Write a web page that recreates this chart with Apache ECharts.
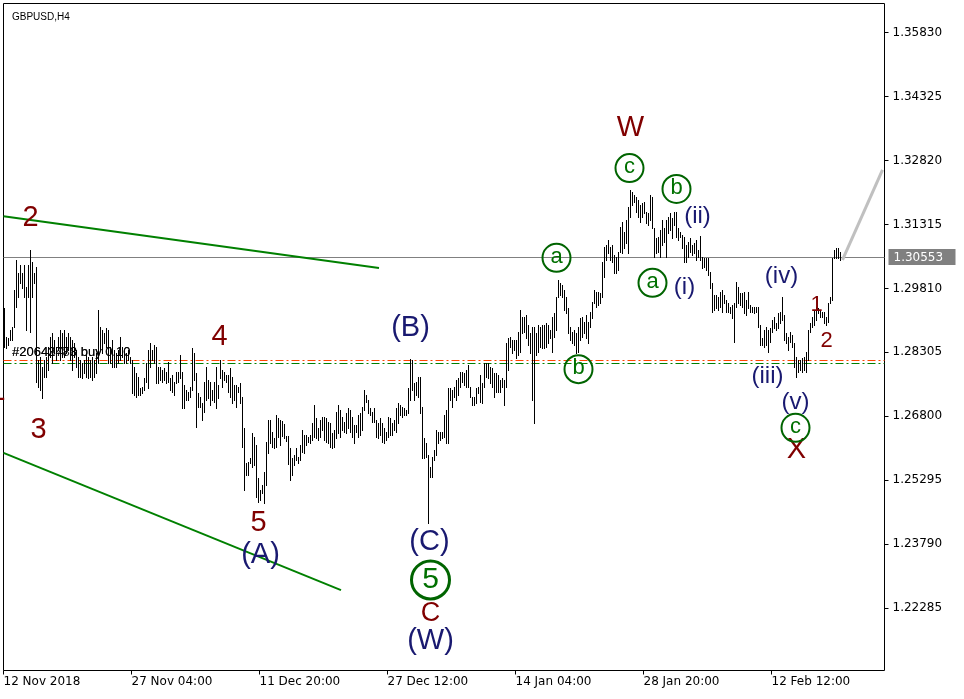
<!DOCTYPE html>
<html><head><meta charset="utf-8">
<script src="https://cdn.jsdelivr.net/npm/echarts@6/dist/echarts.min.js"></script>
<style>html,body{margin:0;padding:0;background:#fff}#c{width:964px;height:699px}</style>
</head><body><div id="c"></div>
<script>
// GBPUSD H4 bars (high / low), one entry per bar, left to right
const highs = [
1.2935,1.2867,1.2864,1.2883,1.2890,1.2977,1.3048,1.3017,1.3036,1.3017,
1.3036,1.2984,1.3036,1.3071,1.3043,1.3017,1.3031,1.2813,1.2820,1.2796,
1.2813,1.2820,1.2843,1.2867,1.2876,1.2860,1.2843,1.2867,1.2883,1.2876,
1.2883,1.2867,1.2876,1.2867,1.2860,1.2853,1.2836,1.2820,1.2813,1.2805,
1.2813,1.2829,1.2820,1.2813,1.2820,1.2813,1.2829,1.2930,1.2890,1.2883,
1.2876,1.2888,1.2883,1.2843,1.2860,1.2836,1.2829,1.2836,1.2867,1.2843,
1.2836,1.2829,1.2836,1.2820,1.2813,1.2796,1.2782,1.2773,1.2747,1.2749,
1.2770,1.2805,1.2836,1.2853,1.2836,1.2848,1.2843,1.2796,1.2796,1.2789,
1.2794,1.2784,1.2808,1.2770,1.2777,1.2761,1.2784,1.2784,1.2824,1.2784,
1.2754,1.2742,1.2737,1.2749,1.2841,1.2829,1.2782,1.2735,1.2725,1.2711,
1.2761,1.2796,1.2765,1.2761,1.2742,1.2761,1.2796,1.2754,1.2813,1.2789,
1.2784,1.2777,1.2777,1.2794,1.2773,1.2754,1.2754,1.2749,1.2758,1.2725,
1.2653,1.2570,1.2573,1.2582,1.2641,1.2631,1.2613,1.2535,1.2507,1.2518,
1.2549,1.2620,1.2671,1.2671,1.2643,1.2629,1.2683,1.2676,1.2671,1.2669,
1.2662,1.2634,1.2634,1.2605,1.2582,1.2589,1.2605,1.2584,1.2613,1.2648,
1.2636,1.2636,1.2631,1.2636,1.2664,1.2707,1.2676,1.2653,1.2671,1.2678,
1.2678,1.2676,1.2667,1.2664,1.2641,1.2648,1.2690,1.2707,1.2695,1.2678,
1.2667,1.2688,1.2700,1.2695,1.2678,1.2660,1.2660,1.2683,1.2688,1.2702,
1.2742,1.2730,1.2718,1.2700,1.2690,1.2700,1.2671,1.2664,1.2676,1.2664,
1.2653,1.2643,1.2678,1.2676,1.2664,1.2671,1.2700,1.2711,1.2707,1.2702,
1.2700,1.2695,1.2747,1.2815,1.2813,1.2758,1.2761,1.2773,1.2773,1.2702,
1.2629,1.2617,1.2589,1.2561,1.2584,1.2601,1.2648,1.2643,1.2643,1.2643,
1.2683,1.2695,1.2747,1.2747,1.2742,1.2749,1.2765,1.2770,1.2784,1.2784,
1.2782,1.2789,1.2801,1.2749,1.2725,1.2725,1.2747,1.2749,1.2777,1.2758,
1.2805,1.2805,1.2805,1.2796,1.2794,1.2782,1.2782,1.2777,1.2765,1.2770,
1.2765,1.2853,1.2864,1.2867,1.2860,1.2860,1.2860,1.2878,1.2930,1.2914,
1.2914,1.2918,1.2895,1.2876,1.2890,1.2890,1.2876,1.2895,1.2890,1.2895,
1.2895,1.2900,1.2895,1.2883,1.2914,1.2923,1.2961,1.3001,1.2994,1.2989,
1.2977,1.2961,1.2935,1.2890,1.2878,1.2883,1.2876,1.2890,1.2911,1.2914,
1.2902,1.2918,1.2902,1.2925,1.2949,1.2977,1.2973,1.2973,1.2970,1.3043,
1.3078,1.3083,1.3095,1.3078,1.3083,1.3060,1.3055,1.3067,1.3125,1.3137,
1.3114,1.3142,1.3172,1.3212,1.3208,1.3201,1.3196,1.3189,1.3177,1.3182,
1.3184,1.3161,1.3158,1.3201,1.3196,1.3123,1.3100,1.3102,1.3118,1.3142,
1.3123,1.3142,1.3149,1.3158,1.3147,1.3161,1.3161,1.3123,1.3114,1.3107,
1.3102,1.3083,1.3090,1.3100,1.3083,1.3088,1.3095,1.3071,1.3104,1.3055,
1.3053,1.3053,1.3053,1.3020,1.2994,1.2965,1.2965,1.2961,1.2973,1.2977,
1.2965,1.2954,1.2947,1.2937,1.2942,1.2947,1.2996,1.2984,1.2970,1.2970,
1.2973,1.2954,1.2973,1.2942,1.2937,1.2937,1.2937,1.2937,1.2895,1.2864,
1.2883,1.2890,1.2883,1.2888,1.2907,1.2914,1.2900,1.2923,1.2925,1.2961,
1.2918,1.2876,1.2867,1.2878,1.2871,1.2853,1.2820,1.2813,1.2813,1.2817,
1.2820,1.2831,1.2883,1.2900,1.2914,1.2930,1.2937,1.2935,1.2930,1.2925,
1.2925,1.2914,1.2947,1.2961,1.3053,1.3071,1.3076,1.3076,1.3067
];
const lows = [
1.2843,1.2841,1.2848,1.2860,1.2860,1.2890,1.2937,1.2961,1.2994,1.2982,
1.2961,1.2883,1.2961,1.2878,1.2961,1.2994,1.2761,1.2749,1.2742,1.2723,
1.2773,1.2773,1.2789,1.2820,1.2805,1.2829,1.2813,1.2836,1.2813,1.2820,
1.2820,1.2829,1.2836,1.2813,1.2789,1.2820,1.2796,1.2773,1.2773,1.2770,
1.2782,1.2773,1.2770,1.2773,1.2765,1.2773,1.2782,1.2805,1.2836,1.2829,
1.2853,1.2843,1.2805,1.2805,1.2796,1.2796,1.2796,1.2805,1.2813,1.2820,
1.2805,1.2805,1.2813,1.2805,1.2735,1.2730,1.2725,1.2730,1.2730,1.2735,
1.2742,1.2761,1.2747,1.2796,1.2813,1.2805,1.2758,1.2758,1.2765,1.2761,
1.2765,1.2758,1.2761,1.2742,1.2737,1.2730,1.2758,1.2761,1.2770,1.2700,
1.2700,1.2718,1.2718,1.2725,1.2742,1.2765,1.2655,1.2702,1.2702,1.2671,
1.2690,1.2718,1.2723,1.2707,1.2718,1.2714,1.2700,1.2723,1.2770,1.2749,
1.2765,1.2761,1.2737,1.2725,1.2711,1.2718,1.2702,1.2737,1.2711,1.2608,
1.2507,1.2542,1.2542,1.2570,1.2561,1.2566,1.2490,1.2478,1.2483,1.2500,
1.2476,1.2518,1.2594,1.2617,1.2608,1.2605,1.2608,1.2631,1.2613,1.2634,
1.2629,1.2622,1.2568,1.2530,1.2542,1.2566,1.2577,1.2570,1.2577,1.2596,
1.2594,1.2613,1.2620,1.2617,1.2624,1.2631,1.2629,1.2624,1.2631,1.2648,
1.2624,1.2620,1.2617,1.2608,1.2605,1.2608,1.2629,1.2641,1.2631,1.2648,
1.2643,1.2641,1.2653,1.2643,1.2631,1.2617,1.2643,1.2631,1.2636,1.2648,
1.2695,1.2714,1.2688,1.2683,1.2667,1.2667,1.2631,1.2629,1.2636,1.2620,
1.2617,1.2624,1.2631,1.2636,1.2636,1.2648,1.2643,1.2664,1.2683,1.2678,
1.2683,1.2683,1.2688,1.2718,1.2742,1.2718,1.2730,1.2725,1.2688,1.2582,
1.2582,1.2584,1.2429,1.2537,1.2537,1.2577,1.2589,1.2617,1.2624,1.2629,
1.2631,1.2617,1.2617,1.2718,1.2702,1.2725,1.2718,1.2730,1.2749,1.2761,
1.2754,1.2749,1.2749,1.2725,1.2707,1.2707,1.2711,1.2735,1.2714,1.2711,
1.2749,1.2773,1.2770,1.2758,1.2749,1.2725,1.2737,1.2737,1.2737,1.2749,
1.2707,1.2749,1.2789,1.2843,1.2829,1.2836,1.2817,1.2824,1.2831,1.2876,
1.2878,1.2864,1.2848,1.2829,1.2718,1.2664,1.2824,1.2831,1.2843,1.2841,
1.2841,1.2843,1.2853,1.2864,1.2831,1.2867,1.2883,1.2961,1.2965,1.2961,
1.2930,1.2923,1.2876,1.2860,1.2853,1.2848,1.2829,1.2831,1.2860,1.2867,
1.2876,1.2864,1.2853,1.2890,1.2911,1.2947,1.2937,1.2942,1.2947,1.2961,
1.3008,1.3048,1.3064,1.3048,1.3043,1.3017,1.3017,1.3024,1.3067,1.3064,
1.3076,1.3088,1.3064,1.3149,1.3177,1.3184,1.3161,1.3149,1.3137,1.3149,
1.3158,1.3135,1.3130,1.3142,1.3123,1.3055,1.3064,1.3067,1.3055,1.3083,
1.3090,1.3055,1.3111,1.3118,1.3100,1.3130,1.3102,1.3095,1.3102,1.3076,
1.3043,1.3043,1.3055,1.3067,1.3060,1.3064,1.3048,1.3055,1.3048,1.3029,
1.3031,1.3024,1.3013,1.2982,1.2925,1.2930,1.2935,1.2930,1.2937,1.2925,
1.2947,1.2925,1.2925,1.2923,1.2911,1.2855,1.2937,1.2947,1.2942,1.2937,
1.2923,1.2918,1.2935,1.2925,1.2925,1.2923,1.2925,1.2890,1.2848,1.2848,
1.2843,1.2848,1.2831,1.2855,1.2878,1.2888,1.2883,1.2888,1.2900,1.2907,
1.2860,1.2853,1.2836,1.2855,1.2843,1.2796,1.2773,1.2784,1.2789,1.2784,
1.2789,1.2784,1.2813,1.2878,1.2890,1.2895,1.2907,1.2923,1.2914,1.2914,
1.2900,1.2895,1.2902,1.2947,1.2954,1.3053,1.3053,1.3053,1.3048
];
const priceTicks = [1.35830,1.34325,1.32820,1.31315,1.29810,1.28305,1.26800,1.25295,1.23790,1.22285];
const timeTickBars = [-0.5, 63.5, 127.5, 191.5, 255.5, 319.5, 383.5];
const timeTickLabels = ['12 Nov 2018','27 Nov 04:00','11 Dec 20:00','27 Dec 12:00','14 Jan 04:00','28 Jan 20:00','12 Feb 12:00'];
const lastPrice = 1.30553;
const orderLevels = [1.2812, 1.2805];
const orderTexts = ['#20642783 buy 0.10', '#20643478 buy 0.10'];
const orderTextBar = 3.75;
const upperTrend = [[-0.5, 1.3151], [187.25, 1.3029]];
const lowerTrend = [[-0.5, 1.2594], [168.25, 1.2271]];
const projection = [[419, 1.3048], [439, 1.3260]];
// wave annotations: [bar index, price, text, kind]
const annotations = [
  [-3.5, 1.2737, '1', 'maroon'],
  [13, 1.3147, '2', 'maroon'],
  [17, 1.2648, '3', 'maroon'],
  [107.5, 1.2867, '4', 'maroon'],
  [127, 1.2429, '5', 'maroon'],
  [213, 1.2215, 'C', 'maroonMid'],
  [313, 1.3358, 'W', 'maroon'],
  [396, 1.2601, 'X', 'maroon'],
  [406, 1.2942, '1', 'maroonSmall'],
  [411, 1.2857, '2', 'maroonSmall'],
  [203, 1.2888, '(B)', 'navy'],
  [128, 1.2354, '(A)', 'navy'],
  [212.5, 1.2384, '(C)', 'navy'],
  [213, 1.2151, '(W)', 'navy'],
  [346.5, 1.3151, '(ii)', 'navySmall'],
  [340, 1.2984, '(i)', 'navySmall'],
  [388.5, 1.3010, '(iv)', 'navySmall'],
  [381.5, 1.2775, '(iii)', 'navySmall'],
  [395.5, 1.2714, '(v)', 'navySmall'],
  [276, 1.3053, 'a', 'ring'],
  [287, 1.2791, 'b', 'ring'],
  [312.5, 1.3264, 'c', 'ring'],
  [336, 1.3215, 'b', 'ring'],
  [324, 1.2994, 'a', 'ring'],
  [395.5, 1.2653, 'c', 'ring'],
  [213, 1.2295, '5', 'ringBig']
];

const FONT = 'Liberation Sans, Arial, sans-serif';
const AXFONT = 'DejaVu Sans';
const STY = {
  maroon:      {color:'#800000', size:29},
  maroonMid:   {color:'#800000', size:27},
  maroonSmall: {color:'#800000', size:22},
  navy:        {color:'#191970', size:29},
  navySmall:   {color:'#191970', size:24},
  ring:        {color:'#007000', size:22, r:14, rw:2, dy:-1},
  ringBig:     {color:'#007000', size:30, r:19, rw:3, dy:0}
};

const X_MIN = -0.5, X_MAX = 440;
const chart = echarts.init(document.getElementById('c'), null, {renderer:'canvas'});

const barData = highs.map((h, i) => [i, h, lows[i]]);

function renderBar(params, api) {
  const top = api.coord([api.value(0), api.value(1)]);
  const bot = api.coord([api.value(0), api.value(2)]);
  const y1 = Math.round(top[1]);
  const y2 = Math.round(bot[1]);
  return {type:'rect', shape:{x:Math.floor(top[0]), y:y1, width:1, height:Math.max(1, y2 - y1 + 1)},
    style:{fill:'#000000'}};
}

function hLine(price, stroke, dash) {
  return function(params, api) {
    const a = api.coord([X_MIN, price]);
    const b = api.coord([X_MAX, price]);
    const y = Math.round(a[1]) + 0.5;
    return {type:'line', shape:{x1:a[0], y1:y, x2:b[0], y2:y},
      style:{stroke:stroke, lineWidth:1, lineDash:dash || null}};
  };
}

function renderAnno(params, api) {
  const a = annotations[params.dataIndex];
  const s = STY[a[3]];
  const p = api.coord([a[0], a[1]]);
  const ch = [];
  if (s.r) {
    ch.push({type:'circle', shape:{cx:p[0], cy:p[1], r:s.r},
      style:{fill:null, stroke:'#006400', lineWidth:s.rw}});
  }
  ch.push({type:'text', x:p[0], y:p[1] + (s.dy || 0),
    style:{text:a[2], fill:s.color, font: s.size + 'px ' + FONT, align:'center', verticalAlign:'middle'}});
  return {type:'group', children:ch};
}

function renderOrderText(params, api) {
  const p = api.coord([orderTextBar, orderLevels[0]]);
  return {type:'group', children: orderTexts.map(t => ({type:'text', x:p[0], y:p[1] - 1,
    style:{text:t, fill:'#000', font:'13px ' + FONT, align:'left', verticalAlign:'bottom', opacity:0.9}}))};
}

function renderPriceTag(params, api) {
  const p = api.coord([X_MAX, lastPrice]);
  const y = Math.round(p[1]);
  return {type:'group', children:[
    {type:'rect', shape:{x:p[0] + 4, y:y - 8, width:67, height:16}, style:{fill:'#808080'}},
    {type:'text', x:p[0] + 9, y:y + 1, style:{text:lastPrice.toFixed(5), fill:'#ffffff', font:'12px ' + AXFONT, align:'left', verticalAlign:'middle'}}
  ]};
}

const option = {
  animation:false,
  backgroundColor:'#ffffff',
  title:{text:'GBPUSD,H4', left:7, top:7, textStyle:{fontSize:10, fontWeight:'normal', color:'#000', fontFamily:'Liberation Sans'}},
  grid:{left:3.5, right:79.5, top:3.5, bottom:28.5, show:true, borderColor:'#000', borderWidth:1, backgroundColor:'#fff'},
  xAxis:{type:'value', min:X_MIN, max:X_MAX, splitLine:{show:false}, axisLine:{show:false, onZero:false},
    axisTick:{show:true, customValues:timeTickBars, length:4, lineStyle:{color:'#000'}},
    axisLabel:{show:true, customValues:timeTickBars, align:'left', margin:5, fontSize:12, fontFamily:AXFONT, color:'#000',
      formatter: v => timeTickLabels[Math.round((v + 0.5) / 64)] || ''}},
  yAxis:{type:'value', position:'right', min:1.20820, max:1.36513, scale:true, splitLine:{show:false}, axisLine:{show:false, onZero:false},
    axisTick:{show:true, customValues:priceTicks, length:4, lineStyle:{color:'#000'}},
    axisLabel:{show:true, customValues:priceTicks, margin:8, fontSize:12, fontFamily:AXFONT, color:'#000',
      formatter: v => v.toFixed(5)}},
  series:[
    {type:'custom', name:'levelRed', renderItem:hLine(orderLevels[0], '#ff4500', [8,3,2,3]), data:[[0,0]], z:1, silent:true},
    {type:'custom', name:'levelGreen', renderItem:hLine(orderLevels[1], '#008000', [8,3,2,3]), data:[[0,0]], z:1, silent:true},
    {type:'custom', name:'last', renderItem:hLine(lastPrice, '#808080', null), data:[[0,0]], z:1, silent:true},
    {type:'line', name:'upper', data:upperTrend, symbol:'none', lineStyle:{color:'#008000', width:2}, z:2, silent:true},
    {type:'line', name:'lower', data:lowerTrend, symbol:'none', lineStyle:{color:'#008000', width:2}, z:2, silent:true},
    {type:'custom', name:'bars', renderItem:renderBar, data:barData, z:3, silent:true},
    {type:'line', name:'projection', data:projection, symbol:'none', lineStyle:{color:'#c0c0c0', width:3}, z:4, silent:true},
    {type:'custom', name:'orderText', renderItem:renderOrderText, data:[[0,0]], z:5, silent:true},
    {type:'custom', name:'anno', renderItem:renderAnno, data:annotations.map(a => [a[0], a[1]]), z:6, silent:true, clip:false},
    {type:'custom', name:'tag', renderItem:renderPriceTag, data:[[0,0]], z:7, silent:true, clip:false}
  ]
};
chart.setOption(option);
</script>
</body></html>
